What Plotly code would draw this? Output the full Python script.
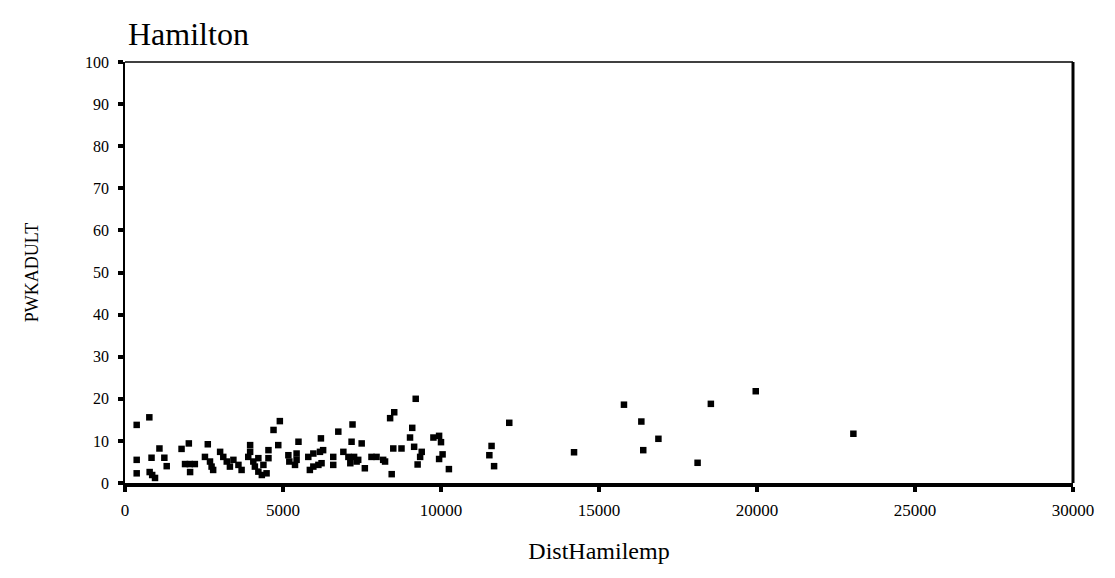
import plotly.graph_objects as go

# Data (DistHamilemp vs PWKADULT)
dist = [370, 770, 370, 370, 780, 860, 950, 840, 1090, 1245, 1320, 1790, 2020, 1900,
        2050, 2210, 2060, 2620, 2530, 2690, 2740, 2790, 3010, 3110, 3220, 3320, 3430,
        3590, 3690, 3960, 3960, 3900, 4060, 4110, 4220, 4330, 4480, 4220, 4380, 4540,
        4540, 4700, 4900, 4850, 5170, 5200, 5380, 5490, 5430, 5430, 5800, 5960, 6170,
        6270, 5850, 5960, 6120, 6220, 6200, 6590, 6590, 6750, 6910, 7070, 7250, 7380,
        7130, 7330, 7200, 7170, 7490, 7590, 7800, 7960, 8170, 8230, 8440, 8390, 8520,
        8490, 8750, 9200, 9090, 9020, 9150, 9390, 9340, 9260, 9760, 9940, 10000, 10050,
        9940, 10250, 11600, 11530, 11680, 12160, 14210, 15790, 16340, 16400, 16880,
        18120, 18540, 19960, 23050]
pwkadult = [13.8, 15.6, 5.5, 2.3, 2.6, 1.9, 1.2, 6.0, 8.2, 6.0, 4.0, 8.1, 9.4, 4.5,
            4.5, 4.5, 2.6, 9.2, 6.2, 5.1, 3.9, 3.1, 7.4, 6.2, 5.1, 3.9, 5.5,
            4.3, 3.1, 9.0, 7.4, 6.2, 5.1, 3.9, 2.7, 1.9, 2.3, 5.9, 4.3, 7.8,
            5.9, 12.6, 14.7, 9.0, 6.6, 5.1, 4.3, 9.8, 7.0, 5.5, 6.2, 7.0, 7.4,
            7.8, 3.1, 3.9, 4.3, 4.7, 10.6, 6.2, 4.3, 12.2, 7.4, 6.2, 6.2, 5.5,
            4.7, 5.1, 13.9, 9.8, 9.4, 3.5, 6.2, 6.2, 5.5, 5.1, 2.1, 15.4, 16.8,
            8.2, 8.2, 20.0, 13.1, 10.8, 8.6, 7.4, 6.2, 4.4, 10.8, 11.2, 9.7, 6.8,
            5.7, 3.3, 8.8, 6.6, 4.0, 14.3, 7.3, 18.6, 14.6, 7.8, 10.5,
            4.8, 18.8, 21.8, 11.7]

x_ticks = [0, 5000, 10000, 15000, 20000, 25000, 30000]
y_ticks = [0, 10, 20, 30, 40, 50, 60, 70, 80, 90, 100]

serif = "Liberation Serif, Times New Roman, serif"

fig = go.Figure()
fig.add_trace(go.Scatter(
    x=dist, y=pwkadult, mode="markers",
    marker=dict(symbol="square", size=6.5, color="black"),
    showlegend=False,
))

fig.update_layout(
    width=1115, height=578,
    margin=dict(l=117, r=50, t=54, b=103),
    paper_bgcolor="white", plot_bgcolor="white",
    title=dict(text="Hamilton", x=120/1115, xanchor="left", y=1 - 26/578, yanchor="middle",
               font=dict(family=serif, size=32, color="black")),
    xaxis=dict(
        range=[0, 30000], tickvals=x_ticks, ticktext=[str(v) for v in x_ticks],
        showgrid=False, zeroline=False, showline=True, linecolor="black", linewidth=4,
        ticks="outside", ticklen=5, tickwidth=4, tickcolor="black",
        ticklabelstandoff=4,
        tickfont=dict(family=serif, size=17, color="black"),
        title=dict(text="DistHamilemp", font=dict(family=serif, size=24, color="black"), standoff=24),
    ),
    yaxis=dict(
        range=[0, 100], tickvals=y_ticks, ticktext=[str(v) for v in y_ticks],
        showgrid=False, zeroline=False, showline=True, linecolor="black", linewidth=1.5,
        ticks="outside", ticklen=5, tickwidth=4, tickcolor="black",
        ticklabelstandoff=6,
        tickfont=dict(family=serif, size=16, color="black"),
        title=dict(text="PWKADULT", font=dict(family=serif, size=18, color="black"), standoff=42),
    ),
    shapes=[
        dict(type="line", xref="paper", yref="paper", x0=0, x1=1, y0=1, y1=1,
             line=dict(color="black", width=1.5)),
        dict(type="line", xref="paper", yref="paper", x0=1, x1=1, y0=0, y1=1,
             line=dict(color="black", width=3)),
    ],
)

fig.write_html("out.html")
